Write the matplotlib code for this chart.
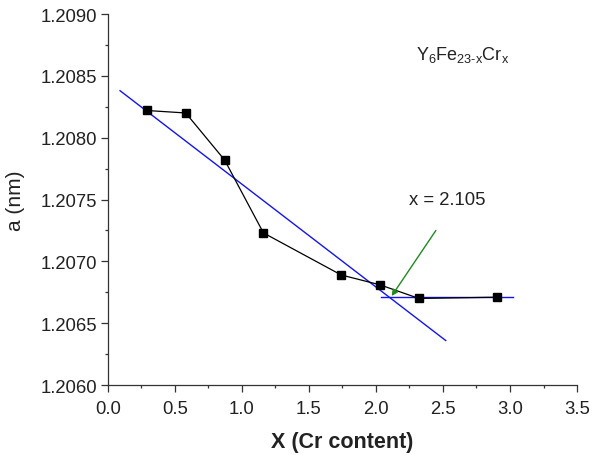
import numpy as np
import matplotlib
matplotlib.use("Agg")
import matplotlib.pyplot as plt
from matplotlib.ticker import MultipleLocator, FormatStrFormatter

plt.rcParams['font.family'] = ['Liberation Sans', 'DejaVu Sans']
plt.rcParams['mathtext.fontset'] = 'custom'
plt.rcParams['mathtext.rm'] = 'Liberation Sans'
plt.rcParams['mathtext.it'] = 'Liberation Sans'

# measured lattice parameter
cr_x = [0.29, 0.58, 0.87, 1.16, 1.74, 2.03, 2.32, 2.90]
a_nm = [1.20822, 1.20820, 1.20782, 1.20723, 1.20689, 1.20681, 1.20670, 1.20671]

# the two fitted lines
fit1_x = [0.09, 2.52]
fit1_y = [1.20838, 1.20636]
fit2_x = [2.04, 3.02]
fit2_y = [1.20671, 1.20671]

# arrow pointing at the crossing
arrow_from = (2.447, 1.20725)
arrow_to = (2.117, 1.20672)

fig = plt.figure(figsize=(6.04, 4.56), dpi=100)
ax = fig.add_axes([0.1788, 0.1535, 0.7765, 0.8135])

ax.plot(fit1_x, fit1_y, color='#1414f0', lw=1.0, zorder=2)
ax.plot(fit2_x, fit2_y, color='#1414f0', lw=1.0, zorder=2)
ax.plot(cr_x, a_nm, color='black', lw=0.9, marker='s', ms=6, zorder=3)

ax.annotate('', xy=arrow_to, xytext=arrow_from,
            arrowprops=dict(arrowstyle='-|>', color='#1f8a1f', lw=1.0,
                            mutation_scale=9, shrinkA=0, shrinkB=0), zorder=4)
ax.text(2.53, 1.20750, 'x = 2.105', fontsize=13.3, ha='center', va='center', color='#222222')
ax.text(2.646, 1.20868, r'$\mathrm{Y_6Fe_{23\text{-}x}Cr_x}$', fontsize=13,
        ha='center', va='center', color='#222222')

ax.set_xlim(0, 3.5)
ax.set_ylim(1.2060, 1.2090)
ax.xaxis.set_major_locator(MultipleLocator(0.5))
ax.xaxis.set_minor_locator(MultipleLocator(0.25))
ax.yaxis.set_major_locator(MultipleLocator(0.0005))
ax.yaxis.set_minor_locator(MultipleLocator(0.00025))
ax.xaxis.set_major_formatter(FormatStrFormatter('%.1f'))
ax.yaxis.set_major_formatter(FormatStrFormatter('%.4f'))
ax.tick_params(which='both', direction='out', labelsize=13.3, width=0.9,
               colors='#333333', labelcolor='#222222')
ax.tick_params(axis='x', pad=6)
ax.tick_params(axis='y', pad=3)
ax.tick_params(which='major', length=5)
ax.tick_params(which='minor', length=2.5)

for s in ['top', 'right']:
    ax.spines[s].set_visible(False)
for s in ['left', 'bottom']:
    ax.spines[s].set_color('#333333')
    ax.spines[s].set_linewidth(0.9)

ax.set_xlabel('X (Cr content)', fontsize=15.5, fontweight='bold', labelpad=10, color='#222222')
ax.set_ylabel('a (nm)', fontsize=15, labelpad=11, color='#222222')

fig.savefig('out.png', dpi=100)
